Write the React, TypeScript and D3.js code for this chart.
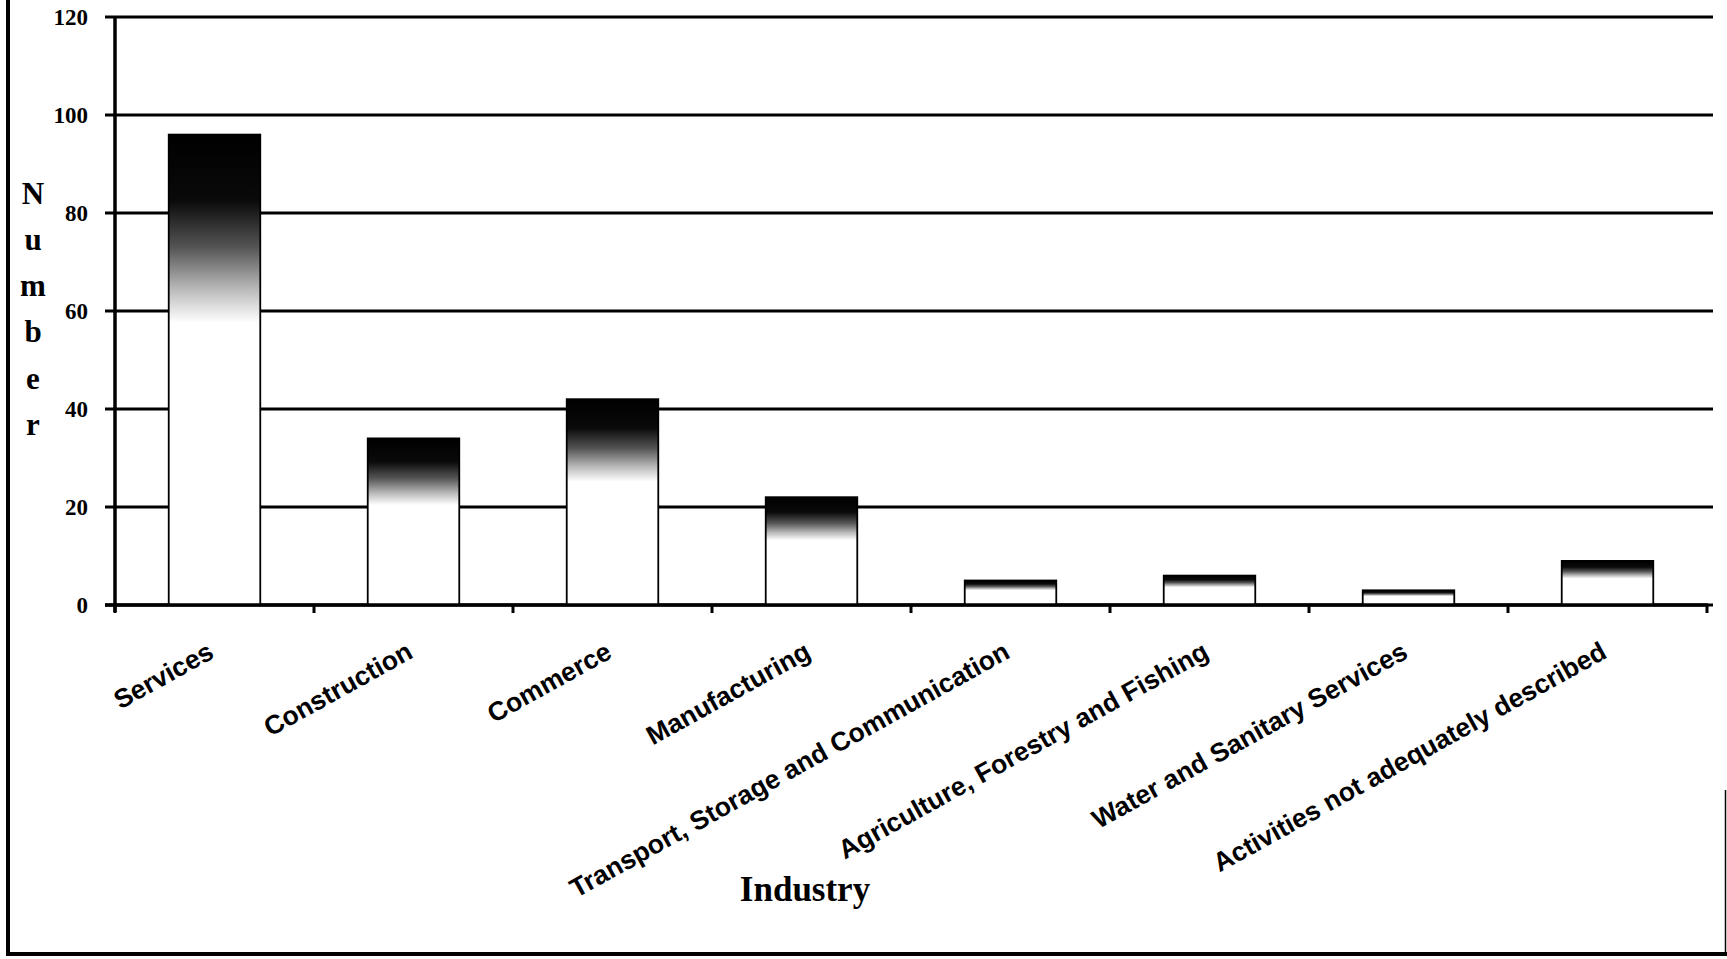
import * as d3 from "d3"

// categories and values
const industries = [
  "Services",
  "Construction",
  "Commerce",
  "Manufacturing",
  "Transport, Storage and Communication",
  "Agriculture, Forestry and Fishing",
  "Water and Sanitary Services",
  "Activities not adequately described",
]
const counts = [96, 34, 42, 22, 5, 6, 3, 9]
const yTicks = [0, 20, 40, 60, 80, 100, 120]
const yTitle = ["N", "u", "m", "b", "e", "r"]

const W = 1727
const H = 959
const m = { top: 17, right: 20, bottom: 354, left: 115 }

export default function App() {
  const x = d3.scaleBand()
    .domain(industries)
    .range([m.left, 1707])
    .paddingInner(0.54)
    .paddingOuter(0.27)
  const y = d3.scaleLinear().domain([0, 120]).range([605, m.top])

  // tick positions sit between the categories
  const step = x.step()
  const boundaries = d3.range(industries.length + 1).map(i => m.left + i * step)

  return (
    <svg width={W} height={H} style={{ position: "absolute", left: 0, top: 0, background: "#fff" }}>
      <defs>
        <linearGradient id="fade" x1="0" y1="0" x2="0" y2="1">
          <stop offset="0" stopColor="#000" />
          <stop offset="0.14" stopColor="#0a0a0a" />
          <stop offset="0.24" stopColor="#555" />
          <stop offset="0.33" stopColor="#bbb" />
          <stop offset="0.40" stopColor="#fff" />
          <stop offset="1" stopColor="#fff" />
        </linearGradient>
      </defs>

      {/* frame */}
      <line x1={8} x2={8} y1={0} y2={955} stroke="#000" strokeWidth={4} />
      <line x1={6} x2={1727} y1={954} y2={954} stroke="#000" strokeWidth={4} />
      <line x1={1725.5} x2={1725.5} y1={790} y2={955} stroke="#000" strokeWidth={1.5} />

      {/* gridlines */}
      {yTicks.map(t => (
        <line key={t} x1={105} x2={1713} y1={y(t)} y2={y(t)} stroke="#000" strokeWidth={3} />
      ))}

      {/* bars */}
      {industries.map((d, i) => (
        <rect
          key={d}
          x={x(d)}
          y={y(counts[i])}
          width={x.bandwidth()}
          height={y(0) - y(counts[i])}
          fill="url(#fade)"
          stroke="#000"
          strokeWidth={1.8}
        />
      ))}

      {/* axes */}
      <line x1={m.left} x2={m.left} y1={y(120)} y2={612} stroke="#000" strokeWidth={3.5} />
      <line x1={105} x2={1708} y1={y(0)} y2={y(0)} stroke="#000" strokeWidth={3.5} />
      {boundaries.map((b, i) => (
        <line key={i} x1={b} x2={b} y1={y(0)} y2={613} stroke="#000" strokeWidth={3} />
      ))}

      {/* y tick labels */}
      {yTicks.map(t => (
        <text
          key={t}
          x={88}
          y={y(t)}
          dy="0.35em"
          textAnchor="end"
          fontFamily="Liberation Serif"
          fontWeight="bold"
          fontSize={23}
        >
          {t}
        </text>
      ))}

      {/* y title, stacked letters */}
      {yTitle.map((c, i) => (
        <text
          key={i}
          x={33}
          y={193 + i * 46.2}
          dy="0.35em"
          textAnchor="middle"
          fontFamily="Liberation Serif"
          fontWeight="bold"
          fontSize={31}
        >
          {c}
        </text>
      ))}

      {/* category labels */}
      {industries.map(d => {
        const cx = x(d) + x.bandwidth() / 2
        return (
          <text
            key={d}
            transform={`translate(${cx + 1},657) rotate(-29)`}
            textAnchor="end"
            fontFamily="Liberation Sans"
            fontWeight="bold"
            fontSize={26.5}
          >
            {d}
          </text>
        )
      })}

      <text
        x={805}
        y={901}
        textAnchor="middle"
        fontFamily="Liberation Serif"
        fontWeight="bold"
        fontSize={35}
      >
        Industry
      </text>
    </svg>
  )
}
